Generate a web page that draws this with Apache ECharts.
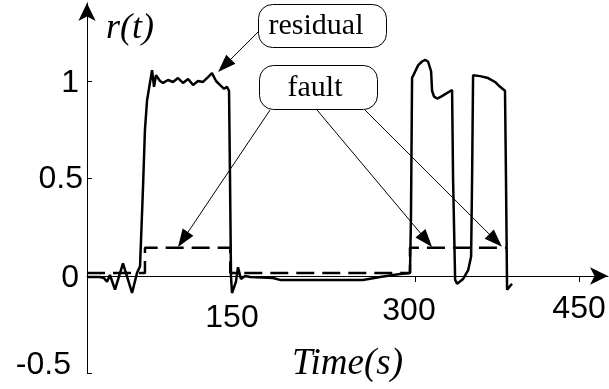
<!DOCTYPE html>
<html>
<head>
<meta charset="utf-8">
<script src="https://cdn.jsdelivr.net/npm/echarts@6/dist/echarts.min.js"></script>
<style>html,body{margin:0;padding:0;background:#fff}#main{width:609px;height:389px}</style>
</head>
<body>
<div id="main"></div>
<script>
// residual r(t)
var residualT = [0, 11.9, 15.5, 18.3, 21, 25.6, 32.9, 41.2, 45.7, 48.5, 51.2, 53, 54.9, 59.5, 61.3, 63.1, 66.8, 69.5, 74.1, 78.7,
  83.2, 87.8, 92.4, 97, 101.5, 106.1, 110.7, 114.3, 118, 121.6, 125.3, 128, 129.9, 130.8, 131.7, 132.6, 136.2, 138.1, 140.8, 144.5,
  149.1, 170.1, 176.5, 206.7, 252.4, 268, 286.3, 295.4, 296.3, 297.3, 302.8, 306.4, 309.2, 311.9, 314.7, 315.6, 317.4, 320.2, 323.8, 328.4,
  333.9, 334.8, 336.7, 338.5, 344, 348.6, 351.3, 352.2, 353.1, 359.5, 366.8, 373.2, 377.8, 382.3, 383.2, 384.2, 388.7];
var residualR = [-0.005, -0.005, -0.01, -0.03, 0.005, -0.07, 0.065, -0.087, 0.015, 0.05, 0.45, 0.75, 0.9, 1.056, 0.97, 1.03, 1.0, 0.99, 1.005, 0.995,
  1.015, 0.99, 1.01, 0.98, 1.0, 0.995, 1.02, 1.04, 1.0, 0.98, 0.96, 0.97, 0.95, 0.5, 0.0, -0.087, -0.03, 0.045, -0.015, 0.0,
  -0.005, -0.01, -0.02, -0.02, -0.02, -0.005, 0.01, 0.015, 0.3, 1.015, 1.08, 1.1, 1.108, 1.1, 1.05, 0.95, 0.92, 0.91, 0.92, 0.935,
  0.954, 0.5, -0.02, -0.04, -0.015, 0.03, 0.1, 0.5, 1.03, 1.025, 1.015, 0.995, 0.97, 0.95, 0.5, -0.07, -0.04];

// fault signal (step)
var faultT = [0, 53, 53, 131, 131, 295.4, 295.4, 384];
var faultR = [0.015, 0.015, 0.145, 0.145, 0.015, 0.015, 0.145, 0.145];

var xLabels = [150, 300, 450];
var xTickMarks = [300, 450];
var yLabels = [-0.5, 0, 0.5, 1];
var yTickMarks = [-0.5, 0.5, 1];

// annotation arrows [fromT, fromR, toT, toR]
var arrows = [
  [156.4, 1.251, 125.7, 1.079],
  [167.4, 0.851, 87.8, 0.187],
  [210.4, 0.851, 310.3, 0.184],
  [254.3, 0.851, 373.7, 0.182]
];

function pairs(t, v){
  var out = [];
  for (var i = 0; i < t.length; i++) out.push([t[i], v[i]]);
  return out;
}

var numFont = {fontFamily:'Liberation Sans', fontSize:32, color:'#000'};
var serif = '"Liberation Serif"';

// plot box: x=0 at 87px, r=0 at 276px, r=-0.5 at 373.5px
var chart = echarts.init(document.getElementById('main'));
var option = {
  animation:false,
  grid:{left:87, right:1, top:3, bottom:15.5, containLabel:false, outerBoundsMode:'none'},
  xAxis:{
    type:'value', min:0, max:476.5,
    position:'bottom', offset:-97.5,
    splitLine:{show:false},
    axisLine:{onZero:false, lineStyle:{color:'#000', width:1}, symbol:['none','arrow'], symbolSize:[13,18]},
    axisTick:{show:true, customValues:xTickMarks, length:6, lineStyle:{color:'#000', width:1}},
    axisLabel:{
      customValues:xLabels, margin:17,
      formatter:function(v){
        if (v == 150) return '{a|150}';
        if (v == 300) return '{b|300}';
        return '{c|' + v + '}';
      },
      rich:{
        a:Object.assign({padding:[9,38,0,0]}, numFont),
        b:Object.assign({padding:[2,12,0,0]}, numFont),
        c:Object.assign({padding:[0,0,0,0]}, numFont)
      }
    },
    name:'Time(s)', nameLocation:'middle', nameGap:70,
    nameTextStyle:{fontFamily:'Liberation Serif', fontStyle:'italic', fontSize:37, color:'#000'}
  },
  yAxis:{
    type:'value', min:-0.5, max:1.4,
    splitLine:{show:false},
    axisLine:{lineStyle:{color:'#000', width:1}, symbol:['none','arrow'], symbolSize:[13,18]},
    axisTick:{show:true, inside:true, customValues:yTickMarks, length:5, lineStyle:{color:'#000', width:1}},
    axisLabel:{
      customValues:yLabels, margin:4,
      formatter:function(v){
        if (v == -0.5) return '{n|-0.5}';
        if (v == 0.5) return '{h|0.5}';
        return '{o|' + v + '}';
      },
      rich:{
        o:Object.assign({padding:[4,4,0,0]}, numFont),
        h:Object.assign({padding:[2,0,0,0]}, numFont),
        n:Object.assign({padding:[0,12,16,0]}, numFont)
      }
    }
  },
  graphic:[
    {type:'text', left:106, top:11, style:{text:'r(t)', font:'italic 36px ' + serif, fill:'#000'}},
    {type:'rect', shape:{x:258.5, y:4.5, width:128, height:43, r:14}, style:{fill:'#fff', stroke:'#000', lineWidth:1}},
    {type:'text', style:{text:'residual', x:316, y:26, align:'center', verticalAlign:'middle', font:'30px ' + serif, fill:'#000'}},
    {type:'rect', shape:{x:259.5, y:65.5, width:118, height:44, r:14}, style:{fill:'#fff', stroke:'#000', lineWidth:1}},
    {type:'text', style:{text:'fault', x:315, y:88, align:'center', verticalAlign:'middle', font:'30px ' + serif, fill:'#000'}}
  ],
  series:[
    {
      name:'fault', type:'line', data:pairs(faultT, faultR),
      showSymbol:false, silent:true,
      lineStyle:{color:'#000', width:2.5, type:[18,8]}
    },
    {
      name:'residual', type:'line', data:pairs(residualT, residualR),
      showSymbol:false, silent:true,
      lineStyle:{color:'#000', width:2.5},
      markLine:{
        silent:true, symbol:['none','triangle'], symbolSize:[13,18],
        lineStyle:{color:'#000', width:1, type:'solid'},
        label:{show:false},
        data:arrows.map(function(a){ return [{coord:[a[0], a[1]]}, {coord:[a[2], a[3]]}]; })
      }
    }
  ]
};
chart.setOption(option);
</script>
</body>
</html>
